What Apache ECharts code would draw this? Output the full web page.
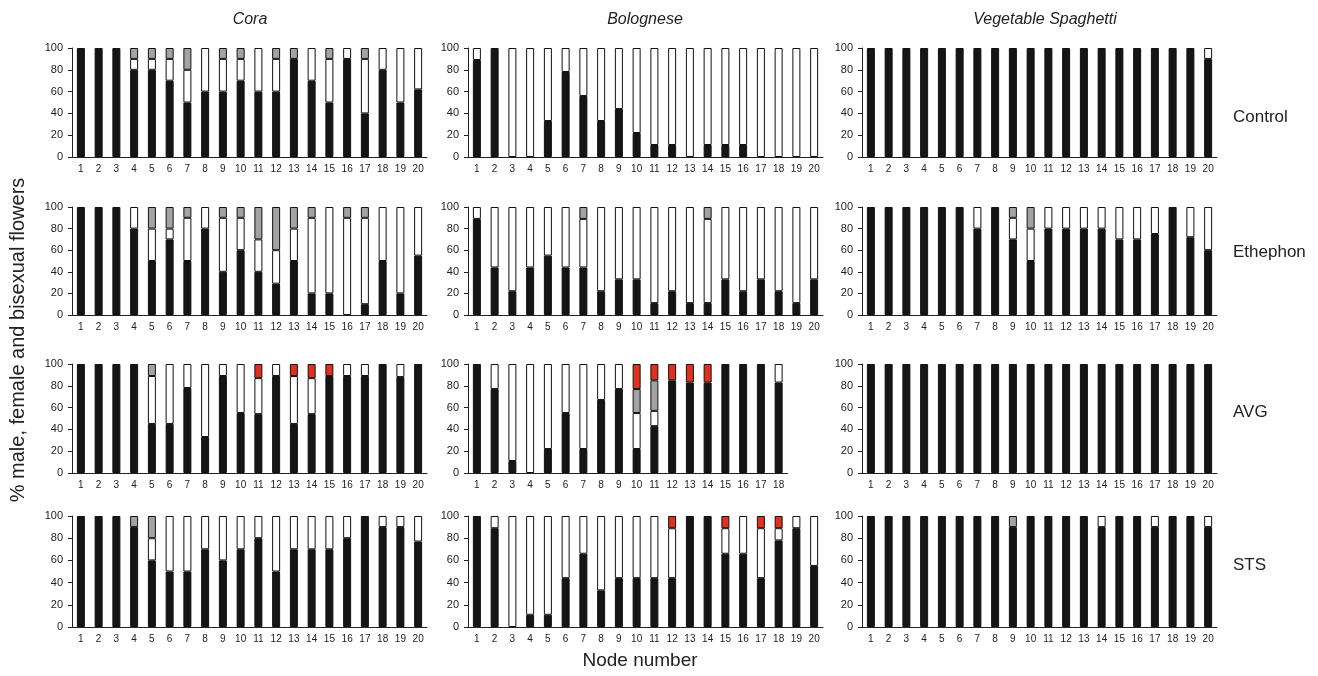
<!DOCTYPE html>
<html>
<head>
<meta charset="utf-8">
<script src="https://cdn.jsdelivr.net/npm/echarts@6/dist/echarts.min.js"></script>
<style>
  html, body { margin: 0; padding: 0; background: #fff; }
  #chart { width: 1318px; height: 676px; }
</style>
</head>
<body>
<div id="chart"></div>
<script>
// segment order, bottom to top: black, white, grey, red
const cultivars = ["Cora", "Bolognese", "Vegetable Spaghetti"];
const treatments = ["Control", "Ethephon", "AVG", "STS"];

const coraControlBlack = [100, 100, 100, 80, 80, 70, 50, 60, 60, 70, 60, 60, 90, 70, 50, 90, 40, 80, 50, 62];
const coraControlWhite = [0, 0, 0, 10, 10, 20, 30, 40, 30, 20, 40, 30, 0, 30, 40, 10, 50, 20, 50, 38];
const coraControlGrey  = [0, 0, 0, 10, 10, 10, 20, 0, 10, 10, 0, 10, 10, 0, 10, 0, 10, 0, 0, 0];

const bologneseControlBlack = [89, 100, 0, 0, 33, 78, 56, 33, 44, 22, 11, 11, 0, 11, 11, 11, 0, 0, 0, 0];
const bologneseControlWhite = [11, 0, 100, 100, 67, 22, 44, 67, 56, 78, 89, 89, 100, 89, 89, 89, 100, 100, 100, 100];

const vegControlBlack = [100, 100, 100, 100, 100, 100, 100, 100, 100, 100, 100, 100, 100, 100, 100, 100, 100, 100, 100, 90];
const vegControlWhite = [0, 0, 0, 0, 0, 0, 0, 0, 0, 0, 0, 0, 0, 0, 0, 0, 0, 0, 0, 10];

const coraEthephonBlack = [100, 100, 100, 80, 50, 70, 50, 80, 40, 60, 40, 29, 50, 20, 20, 0, 10, 50, 20, 55];
const coraEthephonWhite = [0, 0, 0, 20, 30, 10, 40, 20, 50, 30, 30, 31, 30, 70, 80, 90, 80, 50, 80, 45];
const coraEthephonGrey  = [0, 0, 0, 0, 20, 20, 10, 0, 10, 10, 30, 40, 20, 10, 0, 10, 10, 0, 0, 0];

const bologneseEthephonBlack = [89, 44, 22, 44, 55, 44, 44, 22, 33, 33, 11, 22, 11, 11, 33, 22, 33, 22, 11, 33];
const bologneseEthephonWhite = [11, 56, 78, 56, 45, 56, 45, 78, 67, 67, 89, 78, 89, 78, 67, 78, 67, 78, 89, 67];
const bologneseEthephonGrey  = [0, 0, 0, 0, 0, 0, 11, 0, 0, 0, 0, 0, 0, 11, 0, 0, 0, 0, 0, 0];

const vegEthephonBlack = [100, 100, 100, 100, 100, 100, 80, 100, 70, 50, 80, 80, 80, 80, 70, 70, 75, 100, 72, 60];
const vegEthephonWhite = [0, 0, 0, 0, 0, 0, 20, 0, 20, 30, 20, 20, 20, 20, 30, 30, 25, 0, 28, 40];
const vegEthephonGrey  = [0, 0, 0, 0, 0, 0, 0, 0, 10, 20, 0, 0, 0, 0, 0, 0, 0, 0, 0, 0];

const coraAvgBlack = [100, 100, 100, 100, 45, 45, 78, 33, 89, 55, 54, 89, 45, 54, 89, 89, 89, 100, 88, 100];
const coraAvgWhite = [0, 0, 0, 0, 44, 55, 22, 67, 11, 45, 33, 11, 44, 33, 0, 11, 11, 0, 12, 0];
const coraAvgGrey  = [0, 0, 0, 0, 11, 0, 0, 0, 0, 0, 0, 0, 0, 0, 0, 0, 0, 0, 0, 0];
const coraAvgRed   = [0, 0, 0, 0, 0, 0, 0, 0, 0, 0, 13, 0, 11, 13, 11, 0, 0, 0, 0, 0];

const bologneseAvgBlack = [100, 77, 11, 0, 22, 55, 22, 67, 77, 22, 43, 85, 83, 83, 100, 100, 100, 83];
const bologneseAvgWhite = [0, 23, 89, 100, 78, 45, 78, 33, 23, 33, 14, 0, 0, 0, 0, 0, 0, 17];
const bologneseAvgGrey  = [0, 0, 0, 0, 0, 0, 0, 0, 0, 22, 28, 0, 0, 0, 0, 0, 0, 0];
const bologneseAvgRed   = [0, 0, 0, 0, 0, 0, 0, 0, 0, 23, 15, 15, 17, 17, 0, 0, 0, 0];

const vegAvgBlack = [100, 100, 100, 100, 100, 100, 100, 100, 100, 100, 100, 100, 100, 100, 100, 100, 100, 100, 100, 100];

const coraStsBlack = [100, 100, 100, 90, 60, 50, 50, 70, 60, 70, 80, 50, 70, 70, 70, 80, 100, 90, 90, 77];
const coraStsWhite = [0, 0, 0, 0, 20, 50, 50, 30, 40, 30, 20, 50, 30, 30, 30, 20, 0, 10, 10, 23];
const coraStsGrey  = [0, 0, 0, 10, 20, 0, 0, 0, 0, 0, 0, 0, 0, 0, 0, 0, 0, 0, 0, 0];

const bologneseStsBlack = [100, 89, 0, 11, 11, 44, 66, 33, 44, 44, 44, 44, 100, 100, 66, 66, 44, 78, 89, 55];
const bologneseStsWhite = [0, 11, 100, 89, 89, 56, 34, 67, 56, 56, 56, 45, 0, 0, 23, 34, 45, 11, 11, 45];
const bologneseStsRed   = [0, 0, 0, 0, 0, 0, 0, 0, 0, 0, 0, 11, 0, 0, 11, 0, 11, 11, 0, 0];

const vegStsBlack = [100, 100, 100, 100, 100, 100, 100, 100, 90, 100, 100, 100, 100, 90, 100, 100, 90, 100, 100, 90];
const vegStsWhite = [0, 0, 0, 0, 0, 0, 0, 0, 0, 0, 0, 0, 0, 10, 0, 0, 10, 0, 0, 10];
const vegStsGrey  = [0, 0, 0, 0, 0, 0, 0, 0, 10, 0, 0, 0, 0, 0, 0, 0, 0, 0, 0, 0];

// panels[row][col]
const panels = [
  [
    [coraControlBlack, coraControlWhite, coraControlGrey, null],
    [bologneseControlBlack, bologneseControlWhite, null, null],
    [vegControlBlack, vegControlWhite, null, null],
  ],
  [
    [coraEthephonBlack, coraEthephonWhite, coraEthephonGrey, null],
    [bologneseEthephonBlack, bologneseEthephonWhite, bologneseEthephonGrey, null],
    [vegEthephonBlack, vegEthephonWhite, vegEthephonGrey, null],
  ],
  [
    [coraAvgBlack, coraAvgWhite, coraAvgGrey, coraAvgRed],
    [bologneseAvgBlack, bologneseAvgWhite, bologneseAvgGrey, bologneseAvgRed],
    [vegAvgBlack, null, null, null],
  ],
  [
    [coraStsBlack, coraStsWhite, coraStsGrey, null],
    [bologneseStsBlack, bologneseStsWhite, null, bologneseStsRed],
    [vegStsBlack, vegStsWhite, vegStsGrey, null],
  ],
];

const segColors = ["#151515", "#ffffff", "#a3a3a3", "#e0301e"];
const FONT = "Liberation Sans, Arial, sans-serif";

const colLeft = [72, 468, 862];
const bandW = 17.75;
const rowTop = [48, 207, 364, 516];
const rowBottom = [157, 315, 473, 627];
const rowLabelY = [117, 252, 412, 565];

const grids = [], xAxes = [], yAxes = [], series = [];

panels.forEach((row, r) => {
  row.forEach((segs, c) => {
    const idx = grids.length;
    const n = segs[0].length;
    grids.push({
      left: colLeft[c],
      top: rowTop[r],
      width: n * bandW,
      height: rowBottom[r] - rowTop[r],
    });
    xAxes.push({
      type: "category",
      gridIndex: idx,
      data: segs[0].map((_, i) => String(i + 1)),
      axisLine: { lineStyle: { color: "#222", width: 1 } },
      axisTick: { length: 4, lineStyle: { color: "#222" } },
      axisLabel: { color: "#222", fontSize: 10, fontFamily: FONT, margin: 7, interval: 0 },
    });
    yAxes.push({
      type: "value",
      gridIndex: idx,
      min: 0,
      max: 100,
      interval: 20,
      splitLine: { show: false },
      axisLine: { show: true, lineStyle: { color: "#222", width: 1 } },
      axisTick: { show: true, length: 4, lineStyle: { color: "#222" } },
      axisLabel: { color: "#222", fontSize: 11, fontFamily: FONT, margin: 9 },
    });
    segs.forEach((vals, s) => {
      if (!vals) return;
      series.push({
        type: "bar",
        xAxisIndex: idx,
        yAxisIndex: idx,
        stack: "p" + idx,
        barWidth: 8,
        silent: true,
        animation: false,
        itemStyle: { color: segColors[s], borderColor: "#111", borderWidth: 1 },
        data: vals.map((v) => (v > 0 ? v : null)),
      });
    });
  });
});

const graphics = [];
const colCenter = [250, 645, 1045];
cultivars.forEach((name, c) => {
  graphics.push({
    type: "text", x: colCenter[c], y: 20,
    style: { text: name, font: "italic 16px " + FONT, fill: "#222", textAlign: "center", textVerticalAlign: "middle" },
  });
});
treatments.forEach((name, r) => {
  graphics.push({
    type: "text", x: 1233, y: rowLabelY[r],
    style: { text: name, font: "17px " + FONT, fill: "#222", textAlign: "left", textVerticalAlign: "middle" },
  });
});
graphics.push({
  type: "text", x: 640, y: 661,
  style: { text: "Node number", font: "19px " + FONT, fill: "#222", textAlign: "center", textVerticalAlign: "middle" },
});
graphics.push({
  type: "text", x: 18, y: 340, rotation: Math.PI / 2,
  style: { text: "% male, female and bisexual flowers", font: "20px " + FONT, fill: "#222", textAlign: "center", textVerticalAlign: "middle" },
});

const chart = echarts.init(document.getElementById("chart"));
chart.setOption({
  backgroundColor: "#fff",
  animation: false,
  grid: grids,
  xAxis: xAxes,
  yAxis: yAxes,
  series,
  graphic: graphics,
});
</script>
</body>
</html>
